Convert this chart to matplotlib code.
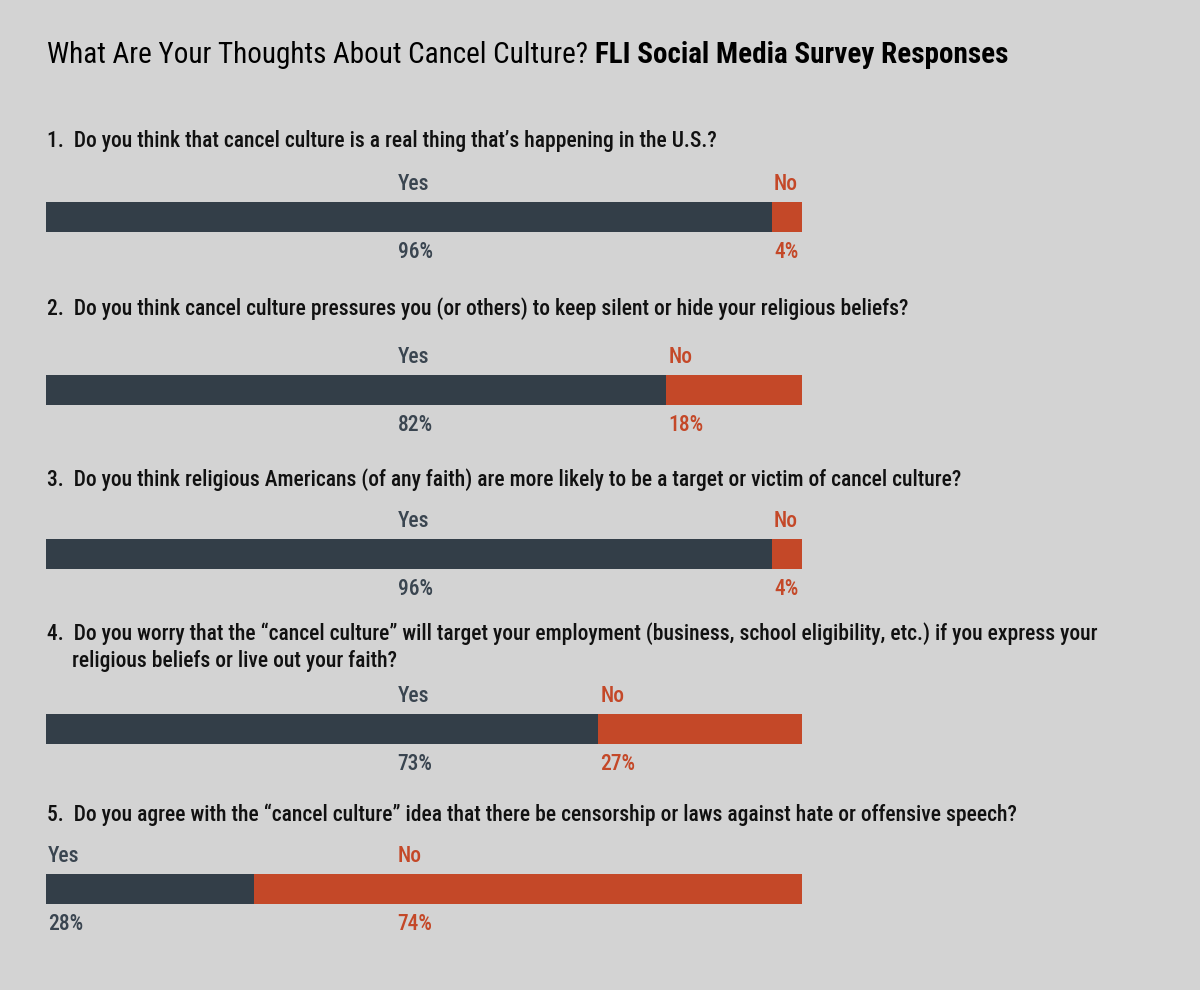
import matplotlib
matplotlib.use('Agg')
import matplotlib.pyplot as plt

plt.rcParams['font.family'] = ['Roboto Condensed', 'DejaVu Sans']

# survey data
questions = [
    ["1.  Do you think that cancel culture is a real thing that\u2019s happening in the U.S.?"],
    ["2.  Do you think cancel culture pressures you (or others) to keep silent or hide your religious beliefs?"],
    ["3.  Do you think religious Americans (of any faith) are more likely to be a target or victim of cancel culture?"],
    ["4.  Do you worry that the \u201ccancel culture\u201d will target your employment (business, school eligibility, etc.) if you express your",
     "religious beliefs or live out your faith?"],
    ["5.  Do you agree with the \u201ccancel culture\u201d idea that there be censorship or laws against hate or offensive speech?"],
]
yes_pct = [96, 82, 96, 73, 28]
no_pct = [4, 18, 4, 27, 74]

BG = '#d3d3d3'
DARK = '#333e48'
ORANGE = '#c44828'
W, H = 1200, 990

fig = plt.figure(figsize=(12, 9.9), dpi=100, facecolor=BG)

# bar area: x in percent, y in pixels from top
ax = fig.add_axes([46 / W, 0, 756 / W, 1])
ax.set_xlim(0, 100)
ax.set_ylim(H, 0)
ax.axis('off')

bar_y = [217, 390, 554, 729, 889]
q_y = [141, 309, 480, 634, 815]

def fx(x):
    return x / W

def fy(y):
    return 1 - y / H

# title in two pieces
t1 = fig.text(fx(47), fy(55), "What Are Your Thoughts About Cancel Culture? ",
              fontsize=21, color='black', va='center', ha='left')
fig.canvas.draw()
bb = t1.get_window_extent()
fig.text(bb.x1 / W, fy(55), "FLI Social Media Survey Responses",
         fontsize=21, fontweight='bold', color='black', va='center', ha='left')

for i, lines in enumerate(questions):
    for j, line in enumerate(lines):
        fig.text(fx(47 if j == 0 else 72), fy(q_y[i] + 27 * j), line, fontsize=15.5,
                 fontweight='medium', color='#111111', va='center', ha='left')

for i in range(len(yes_pct)):
    total = yes_pct[i] + no_pct[i]
    y_w = yes_pct[i] / total * 100
    n_w = no_pct[i] / total * 100
    ax.barh(bar_y[i], y_w, height=30, left=0, color=DARK)
    ax.barh(bar_y[i], n_w, height=30, left=y_w, color=ORANGE)

    # labels: wide segments get a label near the middle, narrow ones at their start
    for label, pct, start, width, col in [('Yes', yes_pct[i], 0, y_w, '#3a4550'),
                                          ('No', no_pct[i], y_w, n_w, ORANGE)]:
        lx = 46.5 if width > 50 else start + 0.3
        ax.text(lx, bar_y[i] - 33, label, color=col, fontsize=15.5, fontweight='medium',
                va='center', ha='left')
        ax.text(lx, bar_y[i] + 35, f'{pct}%', color=col, fontsize=15.5, fontweight='medium',
                va='center', ha='left')

plt.savefig('out.png', facecolor=BG)
